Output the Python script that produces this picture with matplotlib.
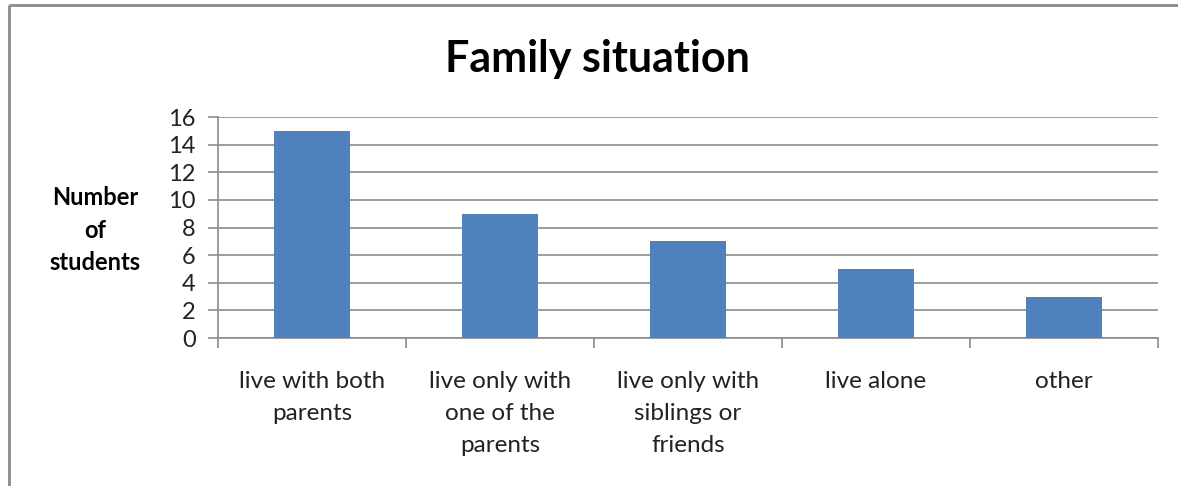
import matplotlib
matplotlib.use("Agg")
import matplotlib.pyplot as plt
from matplotlib.lines import Line2D
import numpy as np

categories = ["live with both\nparents", "live only with\none of the\nparents",
              "live only with\nsiblings or\nfriends", "live alone", "other"]
values = [15, 9, 7, 5, 3]
yticks = [0, 2, 4, 6, 8, 10, 12, 14, 16]

plt.rcParams['font.family'] = ['Lato', 'DejaVu Sans']

W, H = 1178, 486
fig = plt.figure(figsize=(W / 100, H / 100), dpi=100)
ax = fig.add_axes([218 / W, 1 - 338 / H, (1158 - 218) / W, (338 - 117) / H])

x = np.arange(len(values))
ax.bar(x, values, width=0.4, color="#4F81BD", zorder=3)
ax.set_xlim(-0.5, len(values) - 0.5)
ax.set_ylim(0, 16)
ax.set_yticks(yticks)
ax.set_yticklabels([str(v) for v in yticks], fontsize=17, color="#222222")
ax.yaxis.grid(True, color="#8c8c8c", linewidth=1.2, zorder=0)
ax.tick_params(axis="y", direction="out", length=7, width=1.2, color="#8c8c8c", pad=9)

ax.set_xticks(x)
ax.set_xticklabels(categories, fontsize=17.5, color="#222222", linespacing=1.65, va="top")
ax.tick_params(axis="x", which="major", length=0, pad=24)
ax.set_xticks(np.arange(-0.5, len(values), 1.0), minor=True)
ax.tick_params(axis="x", which="minor", direction="out", length=7, width=1.2, color="#8c8c8c")

for s in ["top", "right"]:
    ax.spines[s].set_visible(False)
for s in ["left", "bottom"]:
    ax.spines[s].set_color("#8c8c8c")
    ax.spines[s].set_linewidth(1.2)

fig.text(597 / W, 1 - 59 / H, "Family situation", fontsize=31, fontweight="bold",
         ha="center", va="center", color="black")
fig.text(95 / W, 1 - 230 / H, "Number\nof\nstudents", fontsize=17, fontweight="bold",
         ha="center", va="center", linespacing=1.5, color="black")

# Outer chart frame (left and top edges visible)
fig.add_artist(Line2D([9 / W, 9 / W], [0, 1 - 5 / H], transform=fig.transFigure,
                      color="#8a8a8a", linewidth=2, solid_capstyle="butt"))
fig.add_artist(Line2D([9 / W, 1.01], [1 - 5 / H, 1 - 5 / H], transform=fig.transFigure,
                      color="#8a8a8a", linewidth=2, solid_capstyle="butt"))

fig.savefig("out.png", dpi=100, facecolor="white")
